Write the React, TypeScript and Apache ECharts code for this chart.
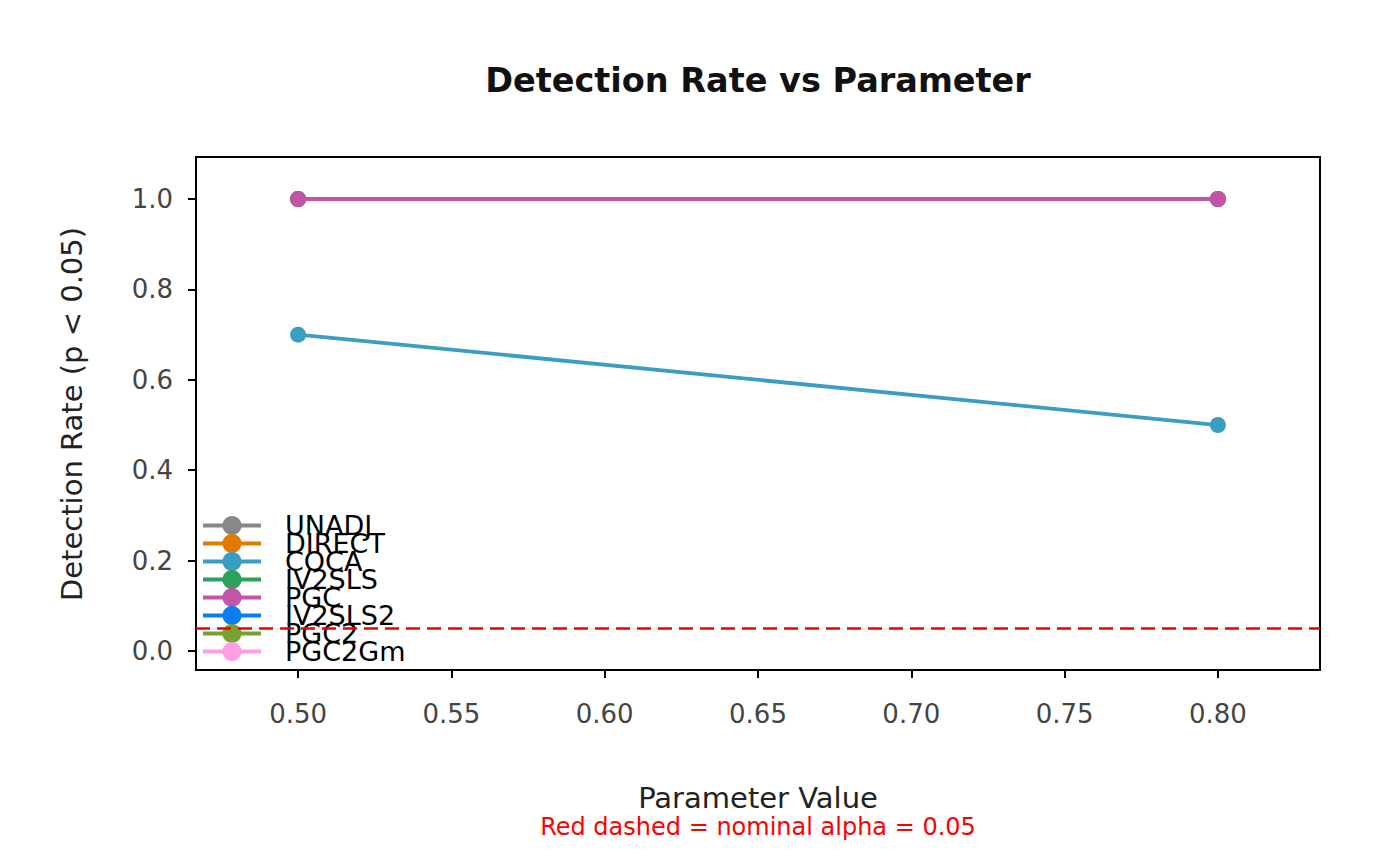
import React, { useEffect, useRef } from "react";
import * as echarts from "echarts";

const xValues = [0.5, 0.8];
const seriesNames = ["UNADJ", "DIRECT", "COCA", "IV2SLS", "PGC", "IV2SLS2", "PGC2", "PGC2Gm"];
const unadj = [1.0, 1.0];
const direct = [1.0, 1.0];
const coca = [0.7, 0.5];
const iv2sls = [1.0, 1.0];
const pgc = [1.0, 1.0];
const iv2sls2: (number | null)[] = [null, null];
const pgc2: (number | null)[] = [null, null];
const pgc2gm: (number | null)[] = [null, null];
const seriesValues = [unadj, direct, coca, iv2sls, pgc, iv2sls2, pgc2, pgc2gm];
const seriesColors = ["#888888", "#e07b00", "#3a9ec2", "#2ca05c", "#c355a8", "#0a7ef0", "#78a22f", "#ff9de6"];
const xTicks = [0.5, 0.55, 0.6, 0.65, 0.7, 0.75, 0.8];
const yTicks = [0, 0.2, 0.4, 0.6, 0.8, 1.0];
const alphaLine = 0.05;

export default function App() {
  const ref = useRef<HTMLDivElement>(null);
  useEffect(() => {
    if (!ref.current) return;
    const chart = echarts.init(ref.current, null, { renderer: "svg" });
    const font = "DejaVu Sans";
    const series: any[] = seriesNames.map((name, i) => ({
      name,
      type: "line",
      data: xValues.map((x, j) => [x, seriesValues[i][j]]),
      symbol: "circle",
      symbolSize: 16,
      showSymbol: true,
      lineStyle: { width: 3.8, color: seriesColors[i] },
      itemStyle: { color: seriesColors[i] },
      z: 3,
    }));
    series.push({
      name: "alpha",
      type: "line",
      data: [],
      markLine: {
        silent: true,
        symbol: "none",
        label: { show: false },
        lineStyle: { color: "#ee0000", width: 2.5, type: [14, 7] },
        data: [{ yAxis: alphaLine }],
      },
      z: 2,
    });
    chart.setOption({
      animation: false,
      backgroundColor: "#ffffff",
      grid: {
        left: 196,
        top: 157,
        right: 80,
        bottom: 196,
        show: true,
        borderColor: "#000000",
        borderWidth: 2,
        backgroundColor: "transparent",
      },
      xAxis: {
        type: "value",
        min: 0.4667,
        max: 0.8333,
        splitLine: { show: false },
        axisLine: { show: true, onZero: false, lineStyle: { color: "#000", width: 2 } },
        axisTick: { show: true, length: 8, lineStyle: { color: "#000", width: 2 }, customValues: xTicks },
        axisLabel: {
          fontSize: 26,
          fontFamily: font,
          color: "#444444",
          margin: 31,
          customValues: xTicks,
          formatter: (v: number) => v.toFixed(2),
        },
      },
      yAxis: {
        type: "value",
        min: -0.042,
        max: 1.093,
        splitLine: { show: false },
        axisLine: { show: true, onZero: false, lineStyle: { color: "#000", width: 2 } },
        axisTick: { show: true, length: 8, lineStyle: { color: "#000", width: 2 }, customValues: yTicks },
        axisLabel: {
          fontSize: 26,
          fontFamily: font,
          color: "#444444",
          margin: 23,
          customValues: yTicks,
          formatter: (v: number) => v.toFixed(1),
        },
      },
      legend: {
        data: seriesNames,
        orient: "vertical",
        left: 201,
        top: 512,
        itemWidth: 58,
        itemHeight: 24,
        itemGap: -9,
        padding: 0,
        lineStyle: { width: 4 },
        textStyle: {
          fontSize: 27,
          fontFamily: font,
          color: "#000000",
          lineHeight: 18,
          padding: [0, 0, 0, 19],
        },
      },
      graphic: [
        {
          type: "text",
          x: 758,
          y: 80,
          style: {
            text: "Detection Rate vs Parameter",
            font: `bold 33.5px "${font}"`,
            fill: "#111111",
            textAlign: "center",
            textVerticalAlign: "middle",
          },
        },
        {
          type: "text",
          x: 758,
          y: 798,
          style: {
            text: "Parameter Value",
            font: `29px "${font}"`,
            fill: "#222222",
            textAlign: "center",
            textVerticalAlign: "middle",
          },
        },
        {
          type: "text",
          x: 758,
          y: 827,
          style: {
            text: "Red dashed = nominal alpha = 0.05",
            font: `24px "${font}"`,
            fill: "#ff0000",
            textAlign: "center",
            textVerticalAlign: "middle",
          },
        },
        {
          type: "text",
          x: 72,
          y: 414,
          rotation: Math.PI / 2,
          style: {
            text: "Detection Rate (p < 0.05)",
            font: `29px "${font}"`,
            fill: "#222222",
            textAlign: "center",
            textVerticalAlign: "middle",
          },
        },
      ],
      series,
    });
    return () => chart.dispose();
  }, []);
  return <div ref={ref} style={{ position: "fixed", left: 0, top: 0, width: 1400, height: 866 }} />;
}
